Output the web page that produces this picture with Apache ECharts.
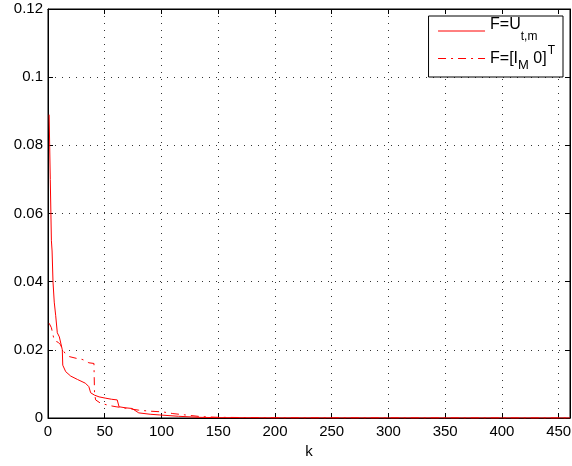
<!DOCTYPE html>
<html>
<head>
<meta charset="utf-8">
<script src="https://cdn.jsdelivr.net/npm/echarts@6/dist/echarts.min.js"></script>
<style>
html,body{margin:0;padding:0;background:#fff;}
#c{width:572px;height:466px;}
</style>
</head>
<body>
<div id="c"></div>
<script>
// Series F=U_{t,m} (solid)
const kU = [1, 2, 3, 3.6, 4.4, 5.5, 6.8, 8.2, 10, 11.2, 12.6, 13, 15.6, 20, 26, 33, 36, 37.6, 41, 45, 51, 56, 61, 62.6, 68, 74, 80, 90, 98, 115, 133, 150, 200, 300, 460];
const vU = [0.089, 0.070, 0.052, 0.049, 0.040, 0.034, 0.030, 0.025, 0.0238, 0.0233, 0.0200, 0.0155, 0.0136, 0.0123, 0.0113, 0.0102, 0.0092, 0.0074, 0.0067, 0.0062, 0.0058, 0.0055, 0.0053, 0.0033, 0.0030, 0.0028, 0.0015, 0.0011, 0.0009, 0.0005, 0.0002, 0.0001, 0.00003, 0.00001, 0];
// Series F=[I_M 0]^T (dash-dot)
const kI = [1, 3, 5, 7, 9, 11, 13, 15, 19, 25, 30, 33, 36, 40.5, 41, 42, 46.5, 55, 60, 70, 80, 90, 101, 110, 121, 135, 150, 200, 460];
const vI = [0.0278, 0.0265, 0.0235, 0.0225, 0.0222, 0.0215, 0.0200, 0.0190, 0.0180, 0.0175, 0.0172, 0.0168, 0.0162, 0.0160, 0.0072, 0.0053, 0.0043, 0.0036, 0.0033, 0.0028, 0.0023, 0.0020, 0.0018, 0.0013, 0.0009, 0.0004, 0.0002, 0.00005, 0];
const xTicks = [0, 50, 100, 150, 200, 250, 300, 350, 400, 450];
const yTicks = [0, 0.02, 0.04, 0.06, 0.08, 0.1, 0.12];
const seriesNames = ['F=U_{t,m}', 'F=[I_M 0]^T'];

const zip = (a, b) => a.map((x, i) => [x, b[i]]);
const FONT = '"Liberation Sans", Arial, Helvetica, sans-serif';
const X_MAX = 460;

const chart = echarts.init(document.getElementById('c'), null, {renderer: 'canvas'});
const axisCommon = {
  axisLine: {show: true, onZero: false, lineStyle: {color: '#000', width: 1}},
  axisTick: {show: true, inside: true, length: 5, lineStyle: {color: '#000'}},
};
chart.setOption({
  animation: false,
  backgroundColor: '#fff',
  grid: {left: 48, right: 2, top: 9, bottom: 48, containLabel: false, outerBoundsMode: 'none',
         show: true, borderColor: '#000', borderWidth: 1},
  legend: {
    orient: 'vertical', right: 9, top: 16,
    padding: [1, 8, 5, 9], itemGap: 2,
    itemWidth: 47, itemHeight: 14,
    backgroundColor: '#fff', borderColor: '#000', borderWidth: 1,
    itemStyle: {color: 'rgba(0,0,0,0)', borderColor: 'rgba(0,0,0,0)', borderWidth: 0},
    lineStyle: {width: 1},
    data: seriesNames,
    formatter: function (name) {
      if (name === seriesNames[0]) return '{a|F=U}{s1|t,m}';
      return '{b|F=[I}{s2|M}{c| 0]}{t|T}';
    },
    textStyle: {
      fontFamily: FONT, color: '#000', fontSize: 16,
      rich: {
        a: {fontFamily: FONT, fontSize: 16, color: '#000', verticalAlign: 'top', padding: [0, 0, 12, 0]},
        s1: {fontFamily: FONT, fontSize: 12, color: '#000', verticalAlign: 'top', padding: [14, 0, 0, 0]},
        b: {fontFamily: FONT, fontSize: 16, color: '#000', verticalAlign: 'top', padding: [6, 0, 0, 0]},
        c: {fontFamily: FONT, fontSize: 16, color: '#000', verticalAlign: 'top', padding: [6, 0, 0, 0]},
        s2: {fontFamily: FONT, fontSize: 13, color: '#000', verticalAlign: 'top', padding: [14, 0, 0, 0]},
        t: {fontFamily: FONT, fontSize: 12, color: '#000', verticalAlign: 'top', padding: [0, 0, 0, 1]}
      }
    }
  },
  xAxis: [
    Object.assign({
      type: 'value', position: 'bottom', min: 0, max: X_MAX, interval: 50,
      name: 'k', nameLocation: 'middle', nameGap: 25,
      nameTextStyle: {fontFamily: FONT, fontSize: 15, color: '#000'},
      axisLabel: {fontFamily: FONT, fontSize: 15, color: '#000', margin: 6, showMaxLabel: false,
        formatter: v => (xTicks.indexOf(v) >= 0 ? String(v) : '')},
      splitLine: {show: true, lineStyle: {color: '#333', width: 1, type: [1, 6]}}
    }, axisCommon),
    Object.assign({
      type: 'value', position: 'top', min: 0, max: X_MAX, interval: 50,
      axisLabel: {show: false}, splitLine: {show: false}
    }, axisCommon)
  ],
  yAxis: [
    Object.assign({
      type: 'value', position: 'left', min: 0, max: 0.12, interval: 0.02,
      axisLabel: {fontFamily: FONT, fontSize: 15, color: '#000', margin: 5,
        formatter: v => { const t = yTicks.find(y => Math.abs(y - v) < 1e-9); return t === undefined ? '' : String(t); }},
      splitLine: {show: true, lineStyle: {color: '#333', width: 1, type: [1, 6]}}
    }, axisCommon),
    Object.assign({
      type: 'value', position: 'right', min: 0, max: 0.12, interval: 0.02,
      axisLabel: {show: false}, splitLine: {show: false}
    }, axisCommon)
  ],
  series: [
    {
      name: seriesNames[1], type: 'line', data: zip(kI, vI), showSymbol: false, symbol: 'none',
      lineStyle: {color: '#ff0000', width: 1, type: [8, 5, 2, 5]}, itemStyle: {color: '#ff0000'}
    },
    {
      name: seriesNames[0], type: 'line', data: zip(kU, vU), showSymbol: false, symbol: 'none',
      lineStyle: {color: '#ff0000', width: 1, type: 'solid'}, itemStyle: {color: '#ff0000'}
    }
  ]
});
</script>
</body>
</html>
